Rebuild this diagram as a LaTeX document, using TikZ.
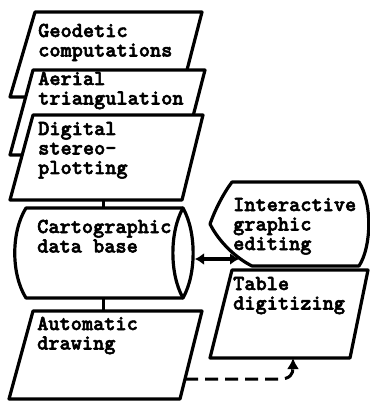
\documentclass[tikz,border=0pt]{standalone}
\usepackage{fontspec}
\newfontfamily\heavytt{lmmonolt10-bold.otf}[FakeBold=2.5]
\usetikzlibrary{arrows.meta}
% stacked lines whose baseline is that of the first line
\newcommand\stacklines[1]{\begin{tabular}[t]{@{}l@{}}#1\end{tabular}}
\begin{document}
\begin{tikzpicture}[x=1pt,y=-1pt,
  outline/.style={draw=black, fill=white, line width=3.2pt, line join=round},
  link/.style={draw=black, line width=3pt},
  label/.style={anchor=base west, inner sep=0pt,
    font=\fontsize{21.3}{19.5}\selectfont\heavytt},
  headtip/.tip={Latex[length=9pt,width=12pt]},
  bigtip/.tip={Latex[length=11pt,width=12pt]},
]
\useasboundingbox (0,0) rectangle (369,403);

% input stages, stacked parallelograms
\path[outline] (35,12) -- (202,12) -- (180,97) -- (10,97) -- cycle;
\path[outline] (33,70) -- (205,70) -- (183,155) -- (10,155) -- cycle;
\path[outline] (33,115) -- (203,115) -- (182,200) -- (10,200) -- cycle;
\node[label] (geo) at (38,37) {\stacklines{Geodetic\\computations}};
\node[label] (aer) at (38,85) {\stacklines{Aerial\\triangulation}};
\node[label] (dig) at (38,135) {\stacklines{Digital\\stereo-\\plotting}};

% data base drum
\path[outline] (183,208) -- (26,208) .. controls (11,232) and (11,274) .. (26,298) -- (183,298);
\path[outline] (183,208) .. controls (169.5,232) and (169.5,274) .. (183,298)
  .. controls (196.5,274) and (196.5,232) .. (183,208) -- cycle;
\node[label] (cart) at (37,233) {\stacklines{Cartographic\\data base}};

% output stage
\path[outline] (33,311) -- (202,311) -- (180,399) -- (9,399) -- cycle;
\node[label] (auto) at (37,330) {\stacklines{Automatic\\drawing}};

% display symbol
\path[outline] (232,182) -- (359,182) .. controls (372,202) and (372,246) .. (359,266)
  -- (252,266) .. controls (236,258) and (219,242) .. (210,224)
  .. controls (215,210) and (223,194) .. (232,182) -- cycle;
\node[label] (inter) at (233,211) {\stacklines{Interactive\\graphic\\editing}};

% table digitizer
\path[outline] (232,270) -- (368,270) -- (350,358) -- (210,358) -- cycle;
\node[label] (table) at (233,290) {\stacklines{Table\\digitizing}};

% connection points
\coordinate (digbot) at (103,200);
\coordinate (cyltop) at (103,208);
\coordinate (cylbot) at (103,298);
\coordinate (autotop) at (103,311);
\coordinate (lensright) at (195,259);
\coordinate (displayleft) at (239,259);
\coordinate (autoright) at (185,379);
\coordinate (bend) at (280,379);
\coordinate (tablebot) at (293,358);

\draw[link] (digbot) -- (cyltop);
\draw[link] (cylbot) -- (autotop);
\draw[link, line width=3.4pt, headtip-headtip] (lensright) -- (displayleft);
\draw[link, dash pattern=on 13pt off 7pt, -bigtip]
  (autoright) -- (bend) .. controls (290,379) and (293,374) .. (tablebot);
\end{tikzpicture}
\end{document}
